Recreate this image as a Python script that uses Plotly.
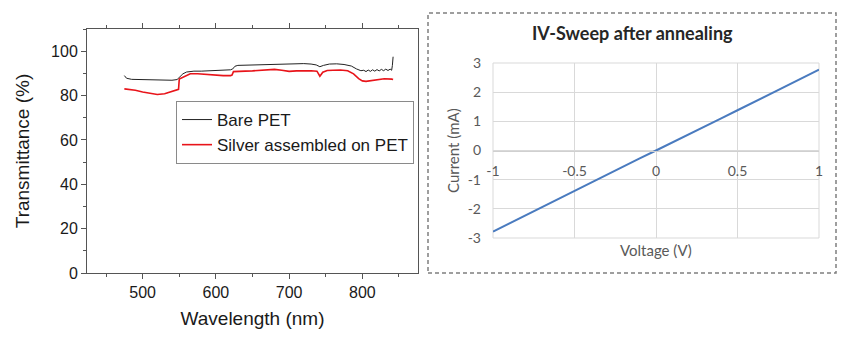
import plotly.graph_objects as go

# ---------------- Left chart data ----------------
wl_bare = [475, 478, 485, 500, 510, 520, 530, 540, 547, 550, 555, 560, 570, 580, 590, 600,
           610, 620, 623, 626, 630, 640, 650, 660, 670, 680, 690, 700, 710, 720, 730, 737,
           742, 747, 755, 765, 775, 785, 792, 798, 802, 805, 808, 811, 814, 817, 820, 823,
           826, 829, 832, 835, 838, 840, 841, 842]
t_bare = [89.0, 87.8, 87.3, 87.2, 87.1, 87.0, 86.8, 86.9, 87.2, 88.2, 89.8, 90.6, 91.0, 91.0,
          91.1, 91.2, 91.4, 91.6, 92.0, 93.2, 93.6, 93.7, 93.7, 93.8, 93.8, 94.0, 94.2, 94.3,
          94.4, 94.4, 94.2, 93.8, 93.0, 93.6, 94.2, 94.3, 94.0, 93.3, 92.0, 91.2, 91.4, 90.8,
          91.5, 90.9, 91.6, 91.0, 91.7, 91.1, 91.8, 91.2, 91.9, 91.3, 91.9, 91.4, 93.5, 97.5]

wl_silver = [475, 480, 490, 500, 510, 520, 530, 540, 547, 549, 550, 555, 560, 565, 575, 585,
             600, 610, 620, 622, 624, 630, 640, 650, 660, 670, 680, 690, 700, 710, 720, 730,
             738, 742, 746, 752, 760, 770, 780, 788, 795, 800, 805, 812, 820, 830, 840, 842]
t_silver = [83.0, 82.9, 82.4, 81.6, 80.9, 80.5, 80.8, 81.8, 82.6, 82.8, 87.4, 88.2, 89.2, 89.8,
            89.8, 89.5, 89.2, 89.0, 89.0, 89.2, 90.8, 91.0, 91.0, 91.1, 91.3, 91.6, 91.8, 91.4,
            90.9, 91.1, 91.3, 91.2, 91.0, 88.7, 90.5, 91.3, 91.4, 91.5, 91.2, 89.8, 87.6, 86.6,
            86.4, 86.7, 87.1, 87.6, 87.4, 87.2]

left_x_ticks = [500, 600, 700, 800]
left_y_ticks = [0, 20, 40, 60, 80, 100]

# ---------------- Right chart data ----------------
voltage = [-1.0, -0.9, -0.8, -0.7, -0.6, -0.5, -0.4, -0.3, -0.2, -0.1, 0.0,
           0.1, 0.2, 0.3, 0.4, 0.5, 0.6, 0.7, 0.8, 0.9, 1.0]
current = [-2.78, -2.50, -2.22, -1.94, -1.65, -1.37, -1.10, -0.82, -0.55, -0.27, 0.0,
           0.27, 0.54, 0.82, 1.10, 1.38, 1.66, 1.94, 2.22, 2.50, 2.77]
iv_x_tickvals = [-1, -0.5, 0, 0.5, 1]
iv_x_ticktext = ["-1", "-0.5", "0", "0.5", "1"]
iv_y_tickvals = [-3, -2, -1, 0, 1, 2, 3]
iv_y_ticktext = ["-3", "-2", "-1", "0", "1", "2", "3"]

W, H = 852, 342
def px(x): return x / W
def py(y): return 1 - y / H

ARIAL = "Liberation Sans, Arial, sans-serif"
CAL = "Lato, Open Sans, sans-serif"
AXC = "#555555"
TXT = "#1a1a1a"

fig = go.Figure()
fig.add_trace(go.Scatter(x=wl_bare, y=t_bare, mode="lines", name="Bare PET",
                         line=dict(color="#222222", width=1), xaxis="x", yaxis="y"))
fig.add_trace(go.Scatter(x=wl_silver, y=t_silver, mode="lines", name="Silver assembled on PET",
                         line=dict(color="#e8141a", width=1.6), xaxis="x", yaxis="y"))
fig.add_trace(go.Scatter(x=voltage, y=current, mode="lines", showlegend=False,
                         line=dict(color="#4a7bbf", width=2), xaxis="x2", yaxis="y2"))

y2_dom = [py(238), py(63)]

fig.update_layout(
    width=W, height=H, autosize=False,
    margin=dict(l=0, r=0, t=0, b=0),
    paper_bgcolor="white", plot_bgcolor="white",
    font=dict(family=ARIAL, color=TXT),
    xaxis=dict(domain=[px(87), px(418)], range=[424, 876], anchor="y",
               tickvals=left_x_ticks, ticks="outside", ticklen=5, tickcolor=AXC,
               minor=dict(dtick=50, ticks="outside", ticklen=3, tickcolor=AXC),
               showline=True, linecolor=AXC, linewidth=1, mirror="ticks",
               showgrid=False, zeroline=False, automargin=False,
               tickfont=dict(size=16, family=ARIAL, color=TXT),
               title=dict(text="Wavelength (nm)", font=dict(size=19, family=ARIAL, color=TXT),
                          standoff=11)),
    yaxis=dict(domain=[py(273), py(29)], range=[0, 110], anchor="x",
               tickvals=left_y_ticks, ticks="outside", ticklen=5, tickcolor=AXC,
               minor=dict(dtick=10, ticks="outside", ticklen=3, tickcolor=AXC),
               showline=True, linecolor=AXC, linewidth=1, mirror=True,
               showgrid=False, zeroline=False, automargin=False,
               tickfont=dict(size=16, family=ARIAL, color=TXT),
               title=dict(text="Transmittance (%)", font=dict(size=19, family=ARIAL, color=TXT),
                          standoff=16)),
    xaxis2=dict(domain=[px(493), px(819)], range=[-1, 1], anchor="free",
                position=(y2_dom[0] + y2_dom[1]) / 2,
                tickvals=iv_x_tickvals, ticktext=iv_x_ticktext, ticks="",
                ticklabelstandoff=8,
                showgrid=True, gridcolor="#d9d9d9", gridwidth=1,
                showline=True, linecolor="#d0d0d0", linewidth=1,
                zeroline=False, automargin=False,
                tickfont=dict(size=14, family=CAL, color="#595959")),
    yaxis2=dict(domain=y2_dom, range=[-3, 3], anchor="x2",
                tickvals=iv_y_tickvals, ticktext=iv_y_ticktext, ticks="",
                ticklabelstandoff=11,
                showgrid=True, gridcolor="#d9d9d9", gridwidth=1,
                showline=False, zeroline=False, automargin=False,
                tickfont=dict(size=14, family=CAL, color="#595959")),
    legend=dict(x=px(176), y=py(101), xanchor="left", yanchor="top",
                bordercolor="#8a8a8a", borderwidth=1, bgcolor="white",
                font=dict(size=17, family=ARIAL, color=TXT), tracegroupgap=0,
                itemwidth=30),
    shapes=[
        dict(type="rect", xref="paper", yref="paper",
             x0=px(428), x1=px(836), y0=py(273), y1=py(13),
             line=dict(color="#7f7f7f", width=1.5, dash="4px,3px"), layer="above"),
        dict(type="rect", xref="x2 domain", yref="y2 domain", x0=0, x1=1, y0=0, y1=1,
             line=dict(color="#d9d9d9", width=1), layer="below"),
    ],
    annotations=[
        dict(text="<b>IV-Sweep after annealing</b>", xref="paper", yref="paper",
             x=px(632.5), y=py(33), xanchor="center", yanchor="middle", showarrow=False,
             font=dict(size=18, family=CAL, color="#262626")),
        dict(text="Voltage (V)", xref="paper", yref="paper",
             x=px(655.5), y=py(250), xanchor="center", yanchor="middle", showarrow=False,
             font=dict(size=15, family=CAL, color="#595959")),
        dict(text="Current (mA)", xref="paper", yref="paper", textangle=-90,
             x=px(453), y=py(150), xanchor="center", yanchor="middle", showarrow=False,
             font=dict(size=15, family=CAL, color="#595959")),
    ],
)

fig.write_html("out.html")
